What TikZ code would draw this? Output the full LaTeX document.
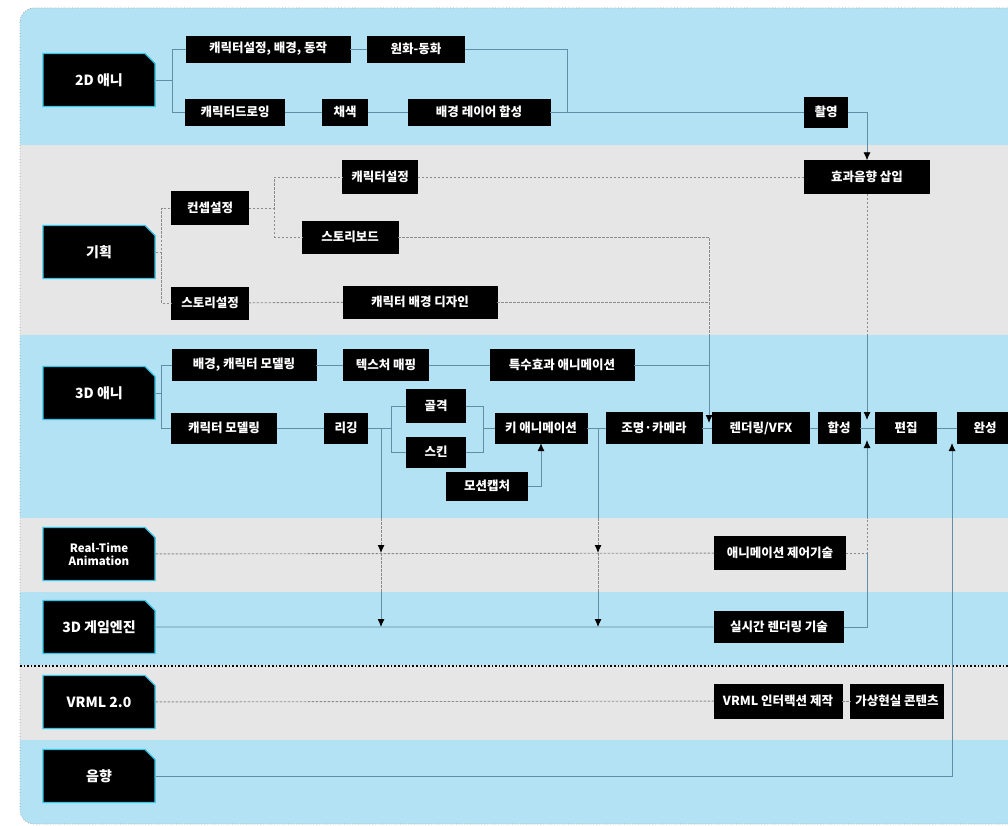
\documentclass[tikz,border=0pt]{standalone}
\usepackage{fontspec}
\newfontfamily\kr{Noto Sans CJK KR}
\usetikzlibrary{shapes.misc,arrows.meta}
\definecolor{bandblue}{HTML}{B2E2F4}
\definecolor{bandgray}{HTML}{E6E6E6}
\definecolor{lineblue}{HTML}{5E8FA6}
\definecolor{linegray}{HTML}{8C8C8C}
\definecolor{rimcyan}{HTML}{38C4E6}
\begin{document}
\begin{tikzpicture}[x=1pt,y=-1pt,
  box/.style={fill=black,draw=black,text=white,font=\kr\bfseries\fontsize{12.5}{14}\selectfont,inner sep=1pt},
  lane/.style={chamfered rectangle,chamfered rectangle corners=north east,
    chamfered rectangle xsep=5pt,chamfered rectangle ysep=5pt,
    fill=black,draw=rimcyan,line width=1.3pt,text=white,align=center,
    font=\kr\bfseries\fontsize{14}{16}\selectfont,minimum width=112pt,minimum height=53pt,inner sep=1pt},
  sline/.style={draw=lineblue,line width=0.9pt},
  dline/.style={draw=linegray,line width=0.9pt,dash pattern=on 2.5pt off 1.5pt},
  arr/.style={-{Latex[length=8pt,width=7pt,color=black]}}]
\useasboundingbox (0,0) rectangle (1008,826);
\fill[white] (0,0) rectangle (1008,826);
% bands
\begin{scope}
\clip[rounded corners=14pt] (20,8) rectangle (1040,824);
\fill[bandblue] (0,0) rectangle (1040,145);
\fill[bandgray] (0,145) rectangle (1040,335);
\fill[bandblue] (0,335) rectangle (1040,518);
\fill[bandgray] (0,518) rectangle (1040,592);
\fill[bandblue] (0,592) rectangle (1040,665);
\fill[bandgray] (0,665) rectangle (1040,740);
\fill[bandblue] (0,740) rectangle (1040,830);
\end{scope}
\draw[linegray!80,dotted,line width=0.8pt,rounded corners=14pt] (20,8) rectangle (1040,824);
\draw[black,line width=1.6pt,dotted] (20,666) -- (1008,666);

% lane heads
\node[lane] (L1) at (99,80) {2D 애니};
\node[lane] (L2) at (99,252) {기획};
\node[lane] (L3) at (99,393) {3D 애니};
\node[lane,font=\kr\bfseries\fontsize{11.5}{13}\selectfont] (L4) at (99,554) {Real-Time\\Animation};
\node[lane] (L5) at (99,627) {3D 게임엔진};
\node[lane] (L6) at (99,702) {VRML 2.0};
\node[lane] (L7) at (99,776) {음향};

% row 1
\node[box,minimum width=164pt,minimum height=26pt] (a1) at (268,49) {캐릭터설정, 배경, 동작};
\node[box,minimum width=97pt,minimum height=26pt] (a2) at (416,49) {원화-동화};
\node[box,minimum width=99pt,minimum height=26pt] (a3) at (235,112) {캐릭터드로잉};
\node[box,minimum width=45pt,minimum height=26pt] (a4) at (345,112) {채색};
\node[box,minimum width=142pt,minimum height=26pt] (a5) at (479,112) {배경 레이어 합성};
\node[box,minimum width=43pt,minimum height=30pt] (a6) at (826,112) {촬영};

% row 2
\node[box,minimum width=77pt,minimum height=33pt] (b1) at (210,208) {컨셉설정};
\node[box,minimum width=75pt,minimum height=33pt] (b2) at (380,177) {캐릭터설정};
\node[box,minimum width=96pt,minimum height=32pt] (b3) at (350,237) {스토리보드};
\node[box,minimum width=77pt,minimum height=32pt] (b4) at (210,303) {스토리설정};
\node[box,minimum width=154pt,minimum height=32pt] (b5) at (420,302) {캐릭터 배경 디자인};
\node[box,minimum width=125pt,minimum height=33pt] (b6) at (867,177) {효과음향 삽입};

% row 3
\node[box,minimum width=144pt,minimum height=31pt] (c1) at (244,365) {배경, 캐릭터 모델링};
\node[box,minimum width=85pt,minimum height=31pt] (c2) at (386,365) {텍스처 매핑};
\node[box,minimum width=144pt,minimum height=31pt] (c3) at (562,365) {특수효과 애니메이션};
\node[box,minimum width=105pt,minimum height=30pt] (c4) at (224,428) {캐릭터 모델링};
\node[box,minimum width=43pt,minimum height=30pt] (c5) at (346,428) {리깅};
\node[box,minimum width=59pt,minimum height=33pt] (c6) at (436,406) {골격};
\node[box,minimum width=59pt,minimum height=30pt] (c7) at (436,452) {스킨};
\node[box,minimum width=92pt,minimum height=30pt] (c8) at (541,428) {키 애니메이션};
\node[box,minimum width=81pt,minimum height=28pt] (c9) at (487,486) {모션캡처};
\node[box,minimum width=96pt,minimum height=31pt] (c10) at (654,428) {조명·카메라};
\node[box,minimum width=97pt,minimum height=31pt] (c11) at (761,428) {렌더링/VFX};
\node[box,minimum width=42pt,minimum height=31pt] (c12) at (839,428) {합성};
\node[box,minimum width=61pt,minimum height=31pt] (c13) at (906,428) {편집};
\node[box,minimum width=56pt,minimum height=31pt] (c14) at (985,428) {완성};

% rows 4-6
\node[box,minimum width=131pt,minimum height=33pt] (e1) at (780,553) {애니메이션 제어기술};
\node[box,minimum width=129pt,minimum height=31pt] (e2) at (779,627) {실시간 렌더링 기술};
\node[box,minimum width=128pt,minimum height=34pt] (f1) at (778,701) {VRML 인터랙션 제작};
\node[box,minimum width=93pt,minimum height=34pt] (f2) at (897,701) {가상현실 콘텐츠};

% junction coordinates
\coordinate (j1) at (567,112);
\coordinate (t1) at (709,335);
\coordinate (t1e) at (709,423);
\coordinate (t1m) at (709,302);
\coordinate (t1c) at (709,365);
\coordinate (s1) at (867,335);
\coordinate (s1e) at (867,420);
\coordinate (u1) at (867,518);
\coordinate (u1e) at (867,440);
\coordinate (u2) at (867,553);
\coordinate (w1) at (952,443);
\coordinate (k6) at (483,428);
\coordinate (d1) at (381,428);
\coordinate (d1a) at (381,518);
\coordinate (d1b) at (381,553);
\coordinate (d1c) at (381,592);
\coordinate (d1d) at (381,627);
\coordinate (d2) at (598,428);
\coordinate (d2a) at (598,518);
\coordinate (d2b) at (598,553);
\coordinate (d2c) at (598,592);
\coordinate (d2d) at (598,627);

% row 1 connectors
\draw[sline] (L1.east) -- ++(17,0) coordinate (k1) |- (a1.west);
\draw[sline] (k1) |- (a3.west);
\draw[sline] (a1) -- (a2);
\draw[sline] (a2.east) -| (j1);
\draw[sline] (a3) -- (a4);
\draw[sline] (a4) -- (a5);
\draw[sline] (a5) -- (a6);
\draw[sline,arr] (a6.east) -| (b6.north);

% row 2 connectors
\draw[dline] (L2.east) -- ++(6,0) coordinate (k2) |- (b1.west);
\draw[dline] (k2) |- (b4.west);
\draw[dline] (b1.east) -- ++(26,0) coordinate (k3) |- (b2.west);
\draw[dline] (k3) |- (b3.west);
\draw[dline] (b2) -- (b6);
\draw[dline] (b4) -- (b5);
\draw[dline] (b3.east) -| (t1);
\draw[dline] (b5.east) -- (t1m);
\draw[sline,arr] (t1) -- (t1e);
\draw[dline] (b6.south) -- (s1);
\draw[sline,arr] (s1) -- (s1e);

% row 3 connectors
\draw[sline] (L3.east) -- ++(6,0) coordinate (k4) |- (c1.west);
\draw[sline] (k4) |- (c4.west);
\draw[sline] (c1) -- (c2);
\draw[sline] (c2) -- (c3);
\draw[sline] (c3.east) -- (t1c);
\draw[sline] (c4) -- (c5);
\draw[sline] (c5.east) -- ++(24,0) coordinate (k5) |- (c6.west);
\draw[sline] (k5) |- (c7.west);
\draw[sline] (c6.east) -| (k6);
\draw[sline] (c7.east) -| (k6);
\draw[sline] (k6) -- (c8.west);
\draw[sline,arr] (c9.east) -| (c8.south);
\draw[sline] (c8) -- (c10);
\draw[sline] (c10) -- (c11);
\draw[sline] (c11) -- (c12);
\draw[sline] (c12) -- (c13);
\draw[sline] (c13) -- (c14);

% drops
\draw[sline] (d1) -- (d1a);
\draw[dline,arr] (d1a) -- (d1b);
\draw[dline] (d1b) -- (d1c);
\draw[sline,arr] (d1c) -- (d1d);
\draw[sline] (d2) -- (d2a);
\draw[dline,arr] (d2a) -- (d2b);
\draw[dline] (d2b) -- (d2c);
\draw[sline,arr] (d2c) -- (d2d);

% rows 4-7 connectors
\draw[dline] (L4) -- (e1);
\draw[dline] (e1.east) -| (u1);
\draw[sline,arr] (u1) -- (u1e);
\draw[sline] (L5) -- (e2);
\draw[sline] (e2.east) -| (u2);
\draw[dline] (L6) -- (f1);
\draw[dline] (f1) -- (f2);
\draw[sline,arr] (L7.east) -| (w1);
\end{tikzpicture}
\end{document}
